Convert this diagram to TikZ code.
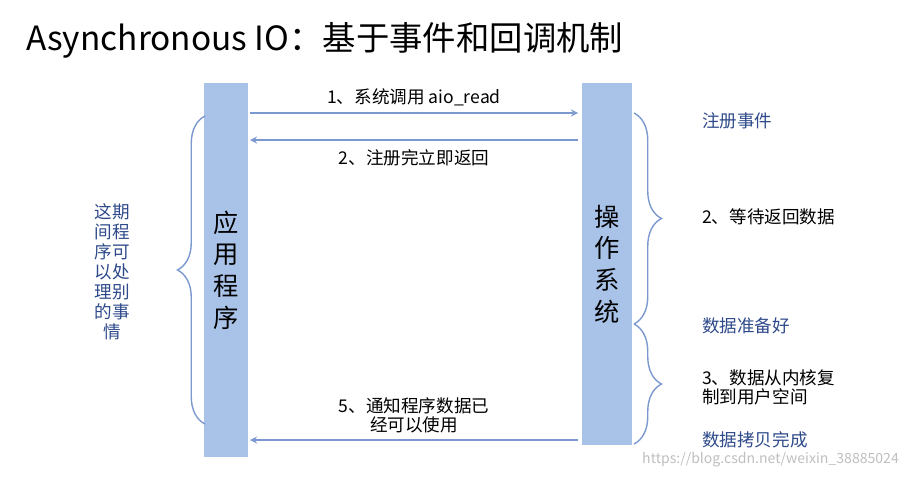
\documentclass[tikz,border=0pt]{standalone}
\usepackage{fontspec}
\setmainfont{Noto Sans CJK SC}
\usetikzlibrary{decorations.pathreplacing}
\definecolor{barblue}{HTML}{A9C2E8}
\definecolor{arrowblue}{HTML}{7C99CF}
\definecolor{noteblue}{HTML}{2E4A8A}

\begin{document}
\begin{tikzpicture}[x=0.02cm, y=-0.02cm,
    bar/.style={fill=barblue, draw=none, minimum width=0.9cm, inner sep=0pt},
    call/.style={->, arrowblue, thick, >=stealth},
    curly/.style={decorate, decoration={brace, amplitude=0.55cm, aspect=0.5}, arrowblue, thick}]
        \useasboundingbox (0,0) rectangle (912,477);

        % Title
        \node[anchor=west, font=\fontsize{19}{22}\selectfont] (title) at (20,40) {Asynchronous IO：基于事件和回调机制};

        % Bars
        \node[bar, minimum height=7.5cm, font=\Large, align=center] (app) at (226,270) {应\\用\\程\\序};
        \node[bar, minimum height=7.24cm, minimum width=1.0cm, font=\Large, align=center] (os) at (607,264) {操\\作\\系\\统};

        % Calls between the bars
        \coordinate (a1) at (250,113); \coordinate (o1) at (578,113);
        \coordinate (a2) at (250,140); \coordinate (o2) at (578,140);
        \coordinate (a5) at (250,440); \coordinate (o5) at (578,440);
        \draw[call] (a1) -- (o1) node[midway, above, text=black] (m1) {1、系统调用 aio\_read};
        \draw[call] (o2) -- (a2) node[midway, below=2pt, text=black] (m2) {2、注册完立即返回};
        \draw[call] (o5) -- (a5) node[midway, above, text=black, align=center, font=\linespread{0.9}\selectfont] (m5) {5、通知程序数据已\\经可以使用};

        % Braces
        \coordinate (b1) at (634,113); \coordinate (b2) at (634,324); \coordinate (b3) at (634,444);
        \coordinate (l1) at (205,116); \coordinate (l2) at (205,424);
        \draw[curly] (b1) -- (b2);
        \draw[curly] (b2) -- (b3);
        \draw[curly] (l2) -- (l1);

        % Notes
        \node[anchor=west, text=noteblue] (n1) at (696,121) {注册事件};
        \node[anchor=west] (n2) at (696,217) {2、等待返回数据};
        \node[anchor=west, text=noteblue] (n3) at (696,326) {数据准备好};
        \node[anchor=west, align=left, font=\linespread{0.9}\selectfont] (n4) at (696,387) {3、数据从内核复\\制到用户空间};
        \node[anchor=west, text=noteblue] (n5) at (696,440) {数据拷贝完成};
        \node[text=noteblue, align=center, font=\linespread{0.95}\selectfont] (wait) at (112,272) {这期\\间程\\序可\\以处\\理别\\的事\\情};

        % Watermark
        \node[anchor=east, text=gray!50, font=\footnotesize] (mark) at (905,460) {https://blog.csdn.net/weixin\_38885024};
      \end{tikzpicture}
\end{document}
